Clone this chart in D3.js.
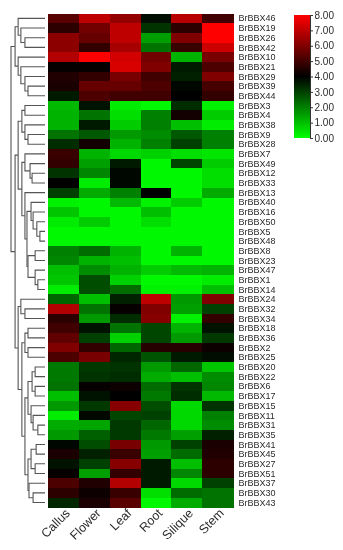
<!DOCTYPE html>
<html>
<head>
<meta charset="utf-8">
<script src="https://cdn.jsdelivr.net/npm/d3@7"></script>
<style>
	html, body { margin: 0; padding: 0; background: #fff; }
	svg { display: block; filter: blur(0.4px); }
	text { font-family: "Liberation Sans", Arial, sans-serif; fill: #2b2b2b; }
</style>
</head>
<body>
<div id="chart"></div>
<script>
const tissues = ['Callus', 'Flower', 'Leaf', 'Root', 'Silique', 'Stem']

const genes = [
	'BrBBX46', 'BrBBX19', 'BrBBX26', 'BrBBX42', 'BrBBX10', 'BrBBX21', 'BrBBX29', 'BrBBX39', 'BrBBX44',
	'BrBBX3', 'BrBBX4', 'BrBBX38', 'BrBBX9', 'BrBBX28', 'BrBBX7', 'BrBBX49', 'BrBBX12', 'BrBBX33',
	'BrBBX13', 'BrBBX40', 'BrBBX16', 'BrBBX50', 'BrBBX5', 'BrBBX48', 'BrBBX8', 'BrBBX23', 'BrBBX47',
	'BrBBX1', 'BrBBX14', 'BrBBX24', 'BrBBX32', 'BrBBX34', 'BrBBX18', 'BrBBX36', 'BrBBX2', 'BrBBX25',
	'BrBBX20', 'BrBBX22', 'BrBBX6', 'BrBBX17', 'BrBBX15', 'BrBBX11', 'BrBBX31', 'BrBBX35', 'BrBBX41',
	'BrBBX45', 'BrBBX27', 'BrBBX51', 'BrBBX37', 'BrBBX30', 'BrBBX43'
]

// one row per gene, same order as tissues
const expression = [
	[5.4, 7.0, 6.3, 3.8, 6.9, 5.0],
	[4.7, 5.8, 7.0, 3.2, 4.7, 8.0],
	[6.2, 5.6, 7.0, 1.5, 6.0, 8.0],
	[6.2, 4.8, 6.6, 2.2, 4.9, 7.2],
	[6.8, 8.0, 7.3, 5.8, 1.2, 5.9],
	[4.1, 4.1, 7.4, 6.0, 3.6, 5.2],
	[4.5, 4.8, 5.9, 5.0, 3.5, 6.0],
	[4.4, 5.6, 5.6, 5.2, 3.9, 5.1],
	[3.6, 5.2, 5.0, 5.0, 4.0, 4.8],
	[1.1, 3.7, 0.3, 0.1, 3.3, 0.2],
	[1.2, 2.2, 0.5, 2.0, 4.3, 0.8],
	[1.2, 3.6, 0.8, 2.0, 1.0, 0.3],
	[2.2, 2.6, 1.6, 1.8, 2.6, 2.0],
	[3.3, 4.3, 1.2, 2.0, 3.0, 2.0],
	[4.9, 1.2, 0.6, 0.7, 0.5, 0.4],
	[4.8, 1.5, 3.6, 0.1, 2.9, 0.8],
	[3.2, 1.9, 3.9, 0.1, 0.1, 0.5],
	[4.0, 0.3, 3.9, 0.1, 0.1, 0.5],
	[3.0, 1.3, 2.0, 4.0, 0.1, 1.3],
	[0.2, 0.1, 1.1, 0.2, 0.8, 0.1],
	[0.9, 0.1, 0.1, 1.0, 0.1, 0.1],
	[0.3, 0.8, 0.1, 0.5, 0.1, 0.1],
	[0.1, 0.1, 0.1, 0.1, 0.1, 0.1],
	[0.1, 0.1, 0.1, 0.1, 0.1, 0.1],
	[2.0, 2.3, 1.2, 0.1, 1.2, 0.1],
	[1.9, 1.2, 1.0, 0.1, 0.1, 0.1],
	[1.0, 1.8, 1.2, 0.8, 1.1, 1.2],
	[0.9, 2.8, 0.7, 0.1, 0.1, 0.3],
	[0.3, 2.8, 2.3, 0.2, 0.2, 1.0],
	[2.4, 1.0, 3.5, 7.0, 1.6, 6.0],
	[6.8, 2.2, 4.1, 6.0, 1.5, 3.0],
	[4.7, 1.6, 3.3, 6.1, 0.2, 4.8],
	[5.0, 3.7, 2.2, 2.9, 1.2, 3.7],
	[5.5, 3.0, 0.7, 2.9, 1.6, 3.1],
	[6.0, 4.8, 2.4, 4.6, 4.6, 4.2],
	[5.2, 5.9, 3.4, 2.7, 3.6, 3.8],
	[2.1, 3.1, 3.2, 1.6, 2.4, 0.9],
	[2.1, 3.2, 3.3, 1.3, 1.0, 1.8],
	[2.2, 4.1, 4.2, 2.3, 3.2, 1.9],
	[1.0, 3.7, 4.0, 2.1, 3.3, 1.1],
	[1.6, 3.1, 6.1, 2.8, 0.6, 3.2],
	[0.3, 3.9, 2.9, 3.0, 0.6, 2.0],
	[1.3, 1.4, 3.1, 2.4, 0.6, 1.8],
	[1.6, 2.5, 3.1, 2.1, 1.5, 3.5],
	[3.9, 2.8, 5.9, 1.6, 3.0, 4.4],
	[4.4, 3.5, 4.9, 1.5, 2.3, 4.5],
	[3.7, 3.0, 6.1, 3.6, 1.0, 4.7],
	[4.1, 1.5, 4.8, 3.6, 1.9, 4.7],
	[5.2, 4.5, 6.8, 3.6, 0.6, 3.0],
	[4.7, 4.2, 4.9, 0.5, 2.3, 2.2],
	[3.4, 4.4, 5.4, 0.1, 1.3, 2.2]
]

const legendTicks = [0, 1, 2, 3, 4, 5, 6, 7, 8]

// [merge distance, child, child], leaves are gene names
const clusters = [1.0,
	[0.88,
		[0.79, 'BrBBX46', [0.71, 'BrBBX19', [0.59, 'BrBBX26', 'BrBBX42']]],
		[0.79, 'BrBBX10', [0.71, 'BrBBX21', [0.59, 'BrBBX29', [0.5, 'BrBBX39', 'BrBBX44']]]]
	],
	[0.88,
		[0.79,
			[0.68,
				[0.59, 'BrBBX3', 'BrBBX4'],
				[0.59, 'BrBBX38', [0.5, 'BrBBX9', 'BrBBX28']]
			],
			[0.68,
				[0.59, 'BrBBX7', [0.44, 'BrBBX49', [0.38, 'BrBBX12', 'BrBBX33']]],
				[0.59, 'BrBBX13', [0.53,
					[0.41, 'BrBBX40', [0.35, 'BrBBX16', [0.24, 'BrBBX50', [0.15, 'BrBBX5', 'BrBBX48']]]],
					[0.5, [0.29, 'BrBBX8', 'BrBBX23'], [0.29, 'BrBBX47', [0.21, 'BrBBX1', 'BrBBX14']]]
				]]
			]
		],
		[0.79,
			[0.71, 'BrBBX24', [0.59, 'BrBBX32', 'BrBBX34']],
			[0.68,
				[0.59, [0.5, 'BrBBX18', 'BrBBX36'], [0.5, 'BrBBX2', 'BrBBX25']],
				[0.59,
					[0.5,
						[0.38, [0.29, 'BrBBX20', 'BrBBX22'], [0.29, 'BrBBX6', 'BrBBX17']],
						[0.41, 'BrBBX15', [0.35, 'BrBBX11', [0.21, 'BrBBX31', 'BrBBX35']]]
					],
					[0.5,
						[0.41, [0.26, 'BrBBX41', 'BrBBX45'], [0.29, 'BrBBX27', 'BrBBX51']],
						[0.47, 'BrBBX37', [0.35, 'BrBBX30', 'BrBBX43']]
					]
				]
			]
		]
	]
]

const width = 343
const height = 550

const color = d3.scaleLinear()
	.domain([0, 4, 8])
	.range(['#00ff00', '#000000', '#ff0000'])

const x = d3.scaleBand().domain(tissues).range([48.4, 233])
const y = d3.scaleBand().domain(genes).range([13.5, 507.4])
const treeX = d3.scaleLinear().domain([0, 1]).range([45, 11])
const legendY = d3.scaleLinear().domain([0, 8]).range([138, 15])

const svg = d3.select('#chart')
	.append('svg')
	.attr('width', width)
	.attr('height', height)

// the heatmap cells
svg.append('g')
	.attr('shape-rendering', 'crispEdges')
	.selectAll('g')
	.data(expression)
	.enter()
	.append('g')
	.attr('transform', (d, i) => 'translate(0,' + y(genes[i]) + ')')
	.selectAll('rect')
	.data(d => d)
	.enter()
	.append('rect')
	.attr('x', (d, i) => x(tissues[i]))
	.attr('width', x.bandwidth() + 0.5)
	.attr('height', y.bandwidth() + 0.5)
	.attr('fill', d => color(d))

// row labels
svg.append('g')
	.selectAll('text')
	.data(genes)
	.enter()
	.append('text')
	.attr('x', 238.5)
	.attr('y', d => y(d) + y.bandwidth() / 2)
	.attr('dy', '0.35em')
	.attr('font-size', 9)
	.text(d => d)

// column labels
svg.append('g')
	.selectAll('text')
	.data(tissues)
	.enter()
	.append('text')
	.attr('text-anchor', 'end')
	.attr('font-size', 12.5)
	.attr('transform', d => 'translate(' + (x(d) + x.bandwidth() / 2 + 7) + ',514) rotate(-45)')
	.text(d => d)

// dendrogram
const root = d3.hierarchy(clusters, d => (Array.isArray(d) ? d.slice(1) : null))
root.eachAfter(node => {
	if (node.children) {
		node.px = treeX(node.data[0])
		node.py = (node.children[0].py + node.children[1].py) / 2
	} else {
		node.px = treeX(0)
		node.py = y(node.data) + y.bandwidth() / 2
	}
})

svg.append('g')
	.attr('fill', 'none')
	.attr('stroke', '#555')
	.attr('stroke-width', 1.1)
	.selectAll('path')
	.data(root.links())
	.enter()
	.append('path')
	.attr('d', d => 'M' + d.source.px + ',' + d.source.py + 'V' + d.target.py + 'H' + d.target.px)

// legend
const legendGradient = svg.append('defs')
	.append('linearGradient')
	.attr('id', 'legendGradient')
	.attr('x1', 0)
	.attr('y1', 1)
	.attr('x2', 0)
	.attr('y2', 0)

legendGradient.selectAll('stop')
	.data(legendTicks)
	.enter()
	.append('stop')
	.attr('offset', d => d / 8)
	.attr('stop-color', d => color(d))

svg.append('rect')
	.attr('x', 294)
	.attr('y', legendY(8))
	.attr('width', 16)
	.attr('height', legendY(0) - legendY(8))
	.attr('fill', 'url(#legendGradient)')

const legendAxis = svg.append('g')
	.attr('transform', 'translate(310,0)')
	.call(d3.axisRight(legendY).tickValues(legendTicks).tickFormat(d3.format('.2f')).tickSize(3).tickPadding(1.5))

legendAxis.selectAll('text')
	.attr('font-size', 10)
	.attr('font-family', '"Liberation Sans", Arial, sans-serif')
legendAxis.selectAll('line, path').attr('stroke', '#333')
</script>
</body>
</html>
